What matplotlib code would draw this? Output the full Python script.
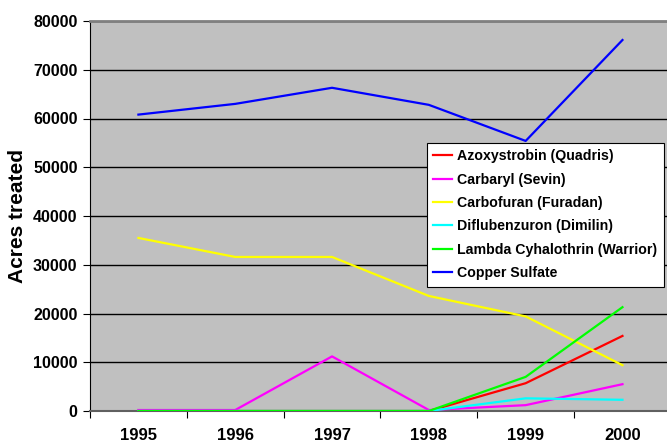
import numpy as np
import matplotlib
matplotlib.use('Agg')
import matplotlib.pyplot as plt

plt.rcParams['font.family'] = ['Liberation Sans', 'DejaVu Sans']

years = ['1995', '1996', '1997', '1998', '1999', '2000']
azoxystrobin = [0, 0, 0, 0, 5700, 15400]
carbaryl = [200, 200, 11200, 200, 1200, 5500]
carbofuran = [35500, 31600, 31600, 23600, 19400, 9400]
diflubenzuron = [0, 0, 0, 0, 2600, 2300]
lambda_cyh = [0, 0, 0, 0, 7000, 21300]
copper = [60800, 63000, 66300, 62800, 55400, 76100]

series = [
    ('Azoxystrobin (Quadris)', azoxystrobin, '#FF0000'),
    ('Carbaryl (Sevin)', carbaryl, '#FF00FF'),
    ('Carbofuran (Furadan)', carbofuran, '#FFFF00'),
    ('Diflubenzuron (Dimilin)', diflubenzuron, '#00FFFF'),
    ('Lambda Cyhalothrin (Warrior)', lambda_cyh, '#00FF00'),
    ('Copper Sulfate', copper, '#0000FF'),
]

fig = plt.figure(figsize=(6.67, 4.43), dpi=100)
ax = fig.add_axes([90/667, 32/443, 577/667, 390/443])
ax.set_facecolor('#C0C0C0')

x = np.arange(len(years))
for name, vals, col in series:
    ax.plot(x, vals, color=col, lw=1.6, label=name, zorder=3)

ax.set_ylim(0, 80000)
ax.set_yticks(np.arange(0, 80001, 10000))
ax.set_xlim(-0.5, 5.46)
ax.set_xticks(np.arange(-0.5, 5.0, 1.0))
ax.set_xticklabels([])
ax.set_xticks(x, minor=True)
ax.set_xticklabels(years, minor=True)
ax.tick_params(axis='x', which='minor', length=0, pad=12, labelsize=12)
ax.tick_params(axis='x', which='major', length=5, direction='out', color='black')
ax.tick_params(axis='y', length=5, direction='out', labelsize=11.5, pad=4)
for lab in ax.get_xticklabels(minor=True) + ax.get_yticklabels():
    lab.set_fontweight('bold')

ax.yaxis.grid(True, color='black', lw=1)
ax.set_axisbelow(True)

ax.spines['right'].set_visible(False)
ax.spines['top'].set_color('#808080')
ax.spines['top'].set_linewidth(2)
ax.spines['bottom'].set_color('#606060')
ax.spines['bottom'].set_linewidth(1.5)
ax.spines['left'].set_color('black')

ax.set_ylabel('Acres treated', fontsize=15, fontweight='bold', labelpad=4)

leg = ax.legend(loc='upper left', bbox_to_anchor=(337/577, 1 - 122/390),
                frameon=True, fancybox=False, framealpha=1, edgecolor='black',
                fontsize=10.2, handlelength=1.3, handletextpad=0.4,
                labelspacing=0.66, borderpad=0.45, borderaxespad=0)
leg.get_frame().set_linewidth(0.8)
for t in leg.get_texts():
    t.set_fontweight('bold')

fig.savefig('out.png', dpi=100)
